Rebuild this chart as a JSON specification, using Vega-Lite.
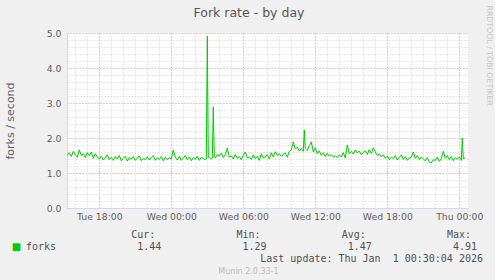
{
  "$schema": "https://vega.github.io/schema/vega-lite/v6.json",
  "background": "#f0f0f0",
  "padding": {"left": 4, "top": 4, "right": 3, "bottom": 6},
  "spacing": 8,
  "config": {"view": {"stroke": null}, "font": "DejaVu Sans"},
  "vconcat": [
    {
      "width": 401,
      "height": 175,
      "view": {"fill": "#ffffff", "stroke": null},
      "data": {"values": [
        {"t": "2025-12-30T15:20:00Z", "v": 1.51}, {"t": "2025-12-30T15:30:00Z", "v": 1.58}, {"t": "2025-12-30T15:40:00Z", "v": 1.47}, {"t": "2025-12-30T15:50:00Z", "v": 1.62},
        {"t": "2025-12-30T16:00:00Z", "v": 1.52}, {"t": "2025-12-30T16:10:00Z", "v": 1.45}, {"t": "2025-12-30T16:20:00Z", "v": 1.66}, {"t": "2025-12-30T16:30:00Z", "v": 1.50}, {"t": "2025-12-30T16:40:00Z", "v": 1.55}, {"t": "2025-12-30T16:50:00Z", "v": 1.44},
        {"t": "2025-12-30T17:00:00Z", "v": 1.58}, {"t": "2025-12-30T17:10:00Z", "v": 1.49}, {"t": "2025-12-30T17:20:00Z", "v": 1.60}, {"t": "2025-12-30T17:30:00Z", "v": 1.42}, {"t": "2025-12-30T17:40:00Z", "v": 1.55}, {"t": "2025-12-30T17:50:00Z", "v": 1.46},
        {"t": "2025-12-30T18:00:00Z", "v": 1.40}, {"t": "2025-12-30T18:10:00Z", "v": 1.48}, {"t": "2025-12-30T18:20:00Z", "v": 1.37}, {"t": "2025-12-30T18:30:00Z", "v": 1.43}, {"t": "2025-12-30T18:40:00Z", "v": 1.52}, {"t": "2025-12-30T18:50:00Z", "v": 1.38},
        {"t": "2025-12-30T19:00:00Z", "v": 1.45}, {"t": "2025-12-30T19:10:00Z", "v": 1.36}, {"t": "2025-12-30T19:20:00Z", "v": 1.47}, {"t": "2025-12-30T19:30:00Z", "v": 1.40}, {"t": "2025-12-30T19:40:00Z", "v": 1.50}, {"t": "2025-12-30T19:50:00Z", "v": 1.35},
        {"t": "2025-12-30T20:00:00Z", "v": 1.42}, {"t": "2025-12-30T20:10:00Z", "v": 1.48}, {"t": "2025-12-30T20:20:00Z", "v": 1.34}, {"t": "2025-12-30T20:30:00Z", "v": 1.44}, {"t": "2025-12-30T20:40:00Z", "v": 1.39}, {"t": "2025-12-30T20:50:00Z", "v": 1.47},
        {"t": "2025-12-30T21:00:00Z", "v": 1.36}, {"t": "2025-12-30T21:10:00Z", "v": 1.43}, {"t": "2025-12-30T21:20:00Z", "v": 1.49}, {"t": "2025-12-30T21:30:00Z", "v": 1.35}, {"t": "2025-12-30T21:40:00Z", "v": 1.42}, {"t": "2025-12-30T21:50:00Z", "v": 1.38},
        {"t": "2025-12-30T22:00:00Z", "v": 1.46}, {"t": "2025-12-30T22:10:00Z", "v": 1.37}, {"t": "2025-12-30T22:20:00Z", "v": 1.44}, {"t": "2025-12-30T22:30:00Z", "v": 1.50}, {"t": "2025-12-30T22:40:00Z", "v": 1.36}, {"t": "2025-12-30T22:50:00Z", "v": 1.43},
        {"t": "2025-12-30T23:00:00Z", "v": 1.39}, {"t": "2025-12-30T23:10:00Z", "v": 1.47}, {"t": "2025-12-30T23:20:00Z", "v": 1.35}, {"t": "2025-12-30T23:30:00Z", "v": 1.45}, {"t": "2025-12-30T23:40:00Z", "v": 1.38}, {"t": "2025-12-30T23:50:00Z", "v": 1.44},
        {"t": "2025-12-31T00:00:00Z", "v": 1.40}, {"t": "2025-12-31T00:10:00Z", "v": 1.66}, {"t": "2025-12-31T00:20:00Z", "v": 1.45}, {"t": "2025-12-31T00:30:00Z", "v": 1.37}, {"t": "2025-12-31T00:40:00Z", "v": 1.48}, {"t": "2025-12-31T00:50:00Z", "v": 1.36},
        {"t": "2025-12-31T01:00:00Z", "v": 1.43}, {"t": "2025-12-31T01:10:00Z", "v": 1.50}, {"t": "2025-12-31T01:20:00Z", "v": 1.38}, {"t": "2025-12-31T01:30:00Z", "v": 1.46}, {"t": "2025-12-31T01:40:00Z", "v": 1.35}, {"t": "2025-12-31T01:50:00Z", "v": 1.44},
        {"t": "2025-12-31T02:00:00Z", "v": 1.39}, {"t": "2025-12-31T02:10:00Z", "v": 1.48}, {"t": "2025-12-31T02:20:00Z", "v": 1.36}, {"t": "2025-12-31T02:30:00Z", "v": 1.45}, {"t": "2025-12-31T02:40:00Z", "v": 1.41}, {"t": "2025-12-31T02:50:00Z", "v": 1.38}, {"t": "2025-12-31T02:55:00Z", "v": 1.40},
        {"t": "2025-12-31T03:00:00Z", "v": 4.91}, {"t": "2025-12-31T03:05:00Z", "v": 1.45}, {"t": "2025-12-31T03:10:00Z", "v": 1.44}, {"t": "2025-12-31T03:20:00Z", "v": 1.40}, {"t": "2025-12-31T03:25:00Z", "v": 1.42}, {"t": "2025-12-31T03:30:00Z", "v": 2.89}, {"t": "2025-12-31T03:35:00Z", "v": 1.46}, {"t": "2025-12-31T03:40:00Z", "v": 1.43}, {"t": "2025-12-31T03:50:00Z", "v": 1.52},
        {"t": "2025-12-31T04:00:00Z", "v": 1.48}, {"t": "2025-12-31T04:10:00Z", "v": 1.57}, {"t": "2025-12-31T04:20:00Z", "v": 1.44}, {"t": "2025-12-31T04:30:00Z", "v": 1.52}, {"t": "2025-12-31T04:40:00Z", "v": 1.71}, {"t": "2025-12-31T04:50:00Z", "v": 1.45},
        {"t": "2025-12-31T05:00:00Z", "v": 1.49}, {"t": "2025-12-31T05:10:00Z", "v": 1.40}, {"t": "2025-12-31T05:20:00Z", "v": 1.53}, {"t": "2025-12-31T05:30:00Z", "v": 1.42}, {"t": "2025-12-31T05:40:00Z", "v": 1.47}, {"t": "2025-12-31T05:50:00Z", "v": 1.38},
        {"t": "2025-12-31T06:00:00Z", "v": 1.50}, {"t": "2025-12-31T06:10:00Z", "v": 1.60}, {"t": "2025-12-31T06:20:00Z", "v": 1.43}, {"t": "2025-12-31T06:30:00Z", "v": 1.46}, {"t": "2025-12-31T06:40:00Z", "v": 1.39}, {"t": "2025-12-31T06:50:00Z", "v": 1.52},
        {"t": "2025-12-31T07:00:00Z", "v": 1.41}, {"t": "2025-12-31T07:10:00Z", "v": 1.48}, {"t": "2025-12-31T07:20:00Z", "v": 1.36}, {"t": "2025-12-31T07:30:00Z", "v": 1.55}, {"t": "2025-12-31T07:40:00Z", "v": 1.43}, {"t": "2025-12-31T07:50:00Z", "v": 1.47},
        {"t": "2025-12-31T08:00:00Z", "v": 1.52}, {"t": "2025-12-31T08:10:00Z", "v": 1.40}, {"t": "2025-12-31T08:20:00Z", "v": 1.58}, {"t": "2025-12-31T08:30:00Z", "v": 1.46}, {"t": "2025-12-31T08:40:00Z", "v": 1.61}, {"t": "2025-12-31T08:50:00Z", "v": 1.50},
        {"t": "2025-12-31T09:00:00Z", "v": 1.55}, {"t": "2025-12-31T09:10:00Z", "v": 1.48}, {"t": "2025-12-31T09:20:00Z", "v": 1.52}, {"t": "2025-12-31T09:30:00Z", "v": 1.57}, {"t": "2025-12-31T09:40:00Z", "v": 1.45}, {"t": "2025-12-31T09:50:00Z", "v": 1.62},
        {"t": "2025-12-31T10:00:00Z", "v": 1.66}, {"t": "2025-12-31T10:10:00Z", "v": 1.89}, {"t": "2025-12-31T10:20:00Z", "v": 1.68}, {"t": "2025-12-31T10:30:00Z", "v": 1.74}, {"t": "2025-12-31T10:40:00Z", "v": 1.63}, {"t": "2025-12-31T10:50:00Z", "v": 1.70},
        {"t": "2025-12-31T11:00:00Z", "v": 1.62}, {"t": "2025-12-31T11:05:00Z", "v": 2.23}, {"t": "2025-12-31T11:10:00Z", "v": 1.70}, {"t": "2025-12-31T11:20:00Z", "v": 1.64}, {"t": "2025-12-31T11:30:00Z", "v": 1.78}, {"t": "2025-12-31T11:40:00Z", "v": 1.89}, {"t": "2025-12-31T11:50:00Z", "v": 1.60},
        {"t": "2025-12-31T12:00:00Z", "v": 1.72}, {"t": "2025-12-31T12:10:00Z", "v": 1.55}, {"t": "2025-12-31T12:20:00Z", "v": 1.63}, {"t": "2025-12-31T12:30:00Z", "v": 1.50}, {"t": "2025-12-31T12:40:00Z", "v": 1.58}, {"t": "2025-12-31T12:50:00Z", "v": 1.47},
        {"t": "2025-12-31T13:00:00Z", "v": 1.56}, {"t": "2025-12-31T13:10:00Z", "v": 1.48}, {"t": "2025-12-31T13:20:00Z", "v": 1.53}, {"t": "2025-12-31T13:30:00Z", "v": 1.45}, {"t": "2025-12-31T13:40:00Z", "v": 1.50}, {"t": "2025-12-31T13:50:00Z", "v": 1.44},
        {"t": "2025-12-31T14:00:00Z", "v": 1.52}, {"t": "2025-12-31T14:10:00Z", "v": 1.46}, {"t": "2025-12-31T14:20:00Z", "v": 1.58}, {"t": "2025-12-31T14:30:00Z", "v": 1.43}, {"t": "2025-12-31T14:40:00Z", "v": 1.80}, {"t": "2025-12-31T14:50:00Z", "v": 1.55},
        {"t": "2025-12-31T15:00:00Z", "v": 1.62}, {"t": "2025-12-31T15:10:00Z", "v": 1.54}, {"t": "2025-12-31T15:20:00Z", "v": 1.66}, {"t": "2025-12-31T15:30:00Z", "v": 1.57}, {"t": "2025-12-31T15:40:00Z", "v": 1.63}, {"t": "2025-12-31T15:50:00Z", "v": 1.52},
        {"t": "2025-12-31T16:00:00Z", "v": 1.58}, {"t": "2025-12-31T16:10:00Z", "v": 1.64}, {"t": "2025-12-31T16:20:00Z", "v": 1.53}, {"t": "2025-12-31T16:30:00Z", "v": 1.67}, {"t": "2025-12-31T16:40:00Z", "v": 1.56}, {"t": "2025-12-31T16:50:00Z", "v": 1.72},
        {"t": "2025-12-31T17:00:00Z", "v": 1.60}, {"t": "2025-12-31T17:10:00Z", "v": 1.50}, {"t": "2025-12-31T17:20:00Z", "v": 1.55}, {"t": "2025-12-31T17:30:00Z", "v": 1.46}, {"t": "2025-12-31T17:40:00Z", "v": 1.52}, {"t": "2025-12-31T17:50:00Z", "v": 1.42},
        {"t": "2025-12-31T18:00:00Z", "v": 1.48}, {"t": "2025-12-31T18:10:00Z", "v": 1.38}, {"t": "2025-12-31T18:20:00Z", "v": 1.45}, {"t": "2025-12-31T18:30:00Z", "v": 1.41}, {"t": "2025-12-31T18:40:00Z", "v": 1.50}, {"t": "2025-12-31T18:50:00Z", "v": 1.37},
        {"t": "2025-12-31T19:00:00Z", "v": 1.44}, {"t": "2025-12-31T19:10:00Z", "v": 1.52}, {"t": "2025-12-31T19:20:00Z", "v": 1.39}, {"t": "2025-12-31T19:30:00Z", "v": 1.47}, {"t": "2025-12-31T19:40:00Z", "v": 1.36}, {"t": "2025-12-31T19:50:00Z", "v": 1.43},
        {"t": "2025-12-31T20:00:00Z", "v": 1.45}, {"t": "2025-12-31T20:10:00Z", "v": 1.60}, {"t": "2025-12-31T20:20:00Z", "v": 1.42}, {"t": "2025-12-31T20:30:00Z", "v": 1.50}, {"t": "2025-12-31T20:40:00Z", "v": 1.38}, {"t": "2025-12-31T20:50:00Z", "v": 1.46},
        {"t": "2025-12-31T21:00:00Z", "v": 1.40}, {"t": "2025-12-31T21:10:00Z", "v": 1.35}, {"t": "2025-12-31T21:20:00Z", "v": 1.44}, {"t": "2025-12-31T21:30:00Z", "v": 1.31}, {"t": "2025-12-31T21:40:00Z", "v": 1.29}, {"t": "2025-12-31T21:50:00Z", "v": 1.38},
        {"t": "2025-12-31T22:00:00Z", "v": 1.36}, {"t": "2025-12-31T22:10:00Z", "v": 1.45}, {"t": "2025-12-31T22:20:00Z", "v": 1.33}, {"t": "2025-12-31T22:30:00Z", "v": 1.41}, {"t": "2025-12-31T22:40:00Z", "v": 1.62}, {"t": "2025-12-31T22:50:00Z", "v": 1.42},
        {"t": "2025-12-31T23:00:00Z", "v": 1.50}, {"t": "2025-12-31T23:10:00Z", "v": 1.38}, {"t": "2025-12-31T23:20:00Z", "v": 1.47}, {"t": "2025-12-31T23:30:00Z", "v": 1.35}, {"t": "2025-12-31T23:40:00Z", "v": 1.44}, {"t": "2025-12-31T23:50:00Z", "v": 1.39},
        {"t": "2026-01-01T00:00:00Z", "v": 1.46}, {"t": "2026-01-01T00:10:00Z", "v": 1.36}, {"t": "2026-01-01T00:15:00Z", "v": 2.00}, {"t": "2026-01-01T00:20:00Z", "v": 1.40}, {"t": "2026-01-01T00:30:00Z", "v": 1.44}
      ]},
      "layer": [
        {
          "mark": {"type": "line", "opacity": 0},
          "encoding": {
            "x": {
              "field": "t", "type": "temporal",
              "axis": {
                "orient": "top", "title": "Fork rate - by day", "labels": false, "ticks": false, "domain": false,
                "values": [1767110400000, 1767114000000, 1767121200000, 1767124800000, 1767128400000, 1767132000000, 1767135600000, 1767142800000, 1767146400000, 1767150000000, 1767153600000, 1767157200000, 1767164400000, 1767168000000, 1767171600000, 1767175200000, 1767178800000, 1767186000000, 1767189600000, 1767193200000, 1767196800000, 1767200400000, 1767207600000, 1767211200000, 1767214800000, 1767218400000, 1767222000000],
                "grid": true, "gridColor": "#d0d0d0", "gridDash": [1, 2], "gridOpacity": 1, "gridWidth": 1,
                "titleFont": "DejaVu Sans", "titleFontSize": 12.5, "titleFontWeight": "normal", "titleColor": "#555555",
                "titleX": 181.5, "titleY": -16.5, "titleAlign": "center", "titleBaseline": "alphabetic", "titleAngle": 0
              }
            },
            "y": {
              "field": "v", "type": "quantitative",
              "axis": {
                "orient": "right", "title": "RRDTOOL / TOBI OETIKER", "labels": false, "ticks": false, "domain": false,
                "values": [0.2, 0.4, 0.6, 0.8, 1.2, 1.4, 1.6, 1.8, 2.2, 2.4, 2.6, 2.8, 3.2, 3.4, 3.6, 3.8, 4.2, 4.4, 4.6, 4.8],
                "grid": true, "gridColor": "#d0d0d0", "gridDash": [1, 2], "gridOpacity": 1, "gridWidth": 1,
                "titleFont": "DejaVu Sans", "titleFontSize": 7.8, "titleFontWeight": "normal", "titleColor": "#c4c4c4",
                "titleAngle": 90, "titleX": 20, "titleY": -28, "titleAlign": "left", "titleBaseline": "middle"
              }
            }
          }
        },
        {
          "mark": {"type": "line", "color": "#00cc00", "strokeWidth": 1},
          "encoding": {
            "x": {
              "field": "t", "type": "temporal",
              "scale": {"type": "utc", "nice": false, "domain": [1767107910000, 1767228210000]},
              "axis": {
                "orient": "bottom", "title": null,
                "values": [1767117600000, 1767139200000, 1767160800000, 1767182400000, 1767204000000, 1767225600000],
                "labelExpr": "utcFormat(datum.value, '%a %H:%M')",
                "labelOverlap": false, "labelFlush": false,
                "labelFont": "DejaVu Sans", "labelFontSize": 9.3, "labelColor": "#606060", "labelPadding": 4,
                "ticks": false, "domainColor": "#cfd6f8", "domainWidth": 1,
                "grid": true, "gridColor": "#e08c8c", "gridDash": [1, 2], "gridOpacity": 1, "gridWidth": 1
              }
            },
            "y": {
              "field": "v", "type": "quantitative",
              "scale": {"domain": [0, 5], "nice": false},
              "axis": {
                "orient": "left",
                "title": "forks / second", "titleFont": "DejaVu Sans", "titleFontSize": 11, "titleFontWeight": "normal", "titleColor": "#606060", "titlePadding": 31,
                "values": [0, 1, 2, 3, 4, 5], "format": ".1f",
                "labelOverlap": false,
                "labelFont": "DejaVu Sans", "labelFontSize": 9.3, "labelColor": "#606060", "labelPadding": 6,
                "ticks": false, "domainColor": "#cfd6f8", "domainWidth": 1,
                "grid": true, "gridColor": "#e08c8c", "gridDash": [1, 2], "gridOpacity": 1, "gridWidth": 1
              }
            }
          }
        }
      ],
      "resolve": {"axis": {"x": "independent", "y": "independent"}}
    },
    {
      "width": 421,
      "height": 24,
      "view": {"fill": "#f0f0f0", "stroke": null},
      "title": {"text": "Munin 2.0.33-1", "orient": "bottom", "anchor": "middle", "frame": "group", "font": "DejaVu Sans", "fontSize": 8, "fontWeight": "normal", "color": "#bbbbbb", "offset": 4, "dx": -29},
      "encoding": {
        "x": {"field": "col", "type": "nominal", "scale": {"type": "point", "domain": ["forks", "Cur:", "Min:", "Avg:", "Max:"], "padding": 0}, "axis": null},
        "y": {"field": "row", "type": "nominal", "scale": {"type": "point", "domain": ["head", "val", "upd"], "padding": 0}, "axis": null}
      },
      "layer": [
        {
          "data": {"values": [
            {"col": "Cur:", "row": "head", "text": "Cur:"},
            {"col": "Min:", "row": "head", "text": "Min:"},
            {"col": "Avg:", "row": "head", "text": "Avg:"},
            {"col": "Max:", "row": "head", "text": "Max:"}
          ]},
          "mark": {"type": "text", "align": "right", "baseline": "middle", "font": "DejaVu Sans Mono", "fontSize": 10, "color": "#505050", "dx": -17},
          "encoding": {"text": {"field": "text"}}
        },
        {
          "data": {"values": [
            {"col": "forks", "row": "val", "text": "forks"},
            {"col": "Cur:", "row": "val", "text": "1.44"},
            {"col": "Min:", "row": "val", "text": "1.29"},
            {"col": "Avg:", "row": "val", "text": "1.47"},
            {"col": "Max:", "row": "val", "text": "4.91"}
          ]},
          "mark": {"type": "text", "align": "right", "baseline": "middle", "font": "DejaVu Sans Mono", "fontSize": 10, "color": "#505050", "dx": -11},
          "encoding": {"text": {"field": "text"}}
        },
        {
          "data": {"values": [
            {"col": "Max:", "row": "upd", "text": "Last update: Thu Jan\u00a0 1 00:30:04 2026"}
          ]},
          "mark": {"type": "text", "align": "right", "baseline": "middle", "font": "DejaVu Sans Mono", "fontSize": 10, "color": "#505050", "dx": -5},
          "encoding": {"text": {"field": "text"}}
        },
        {
          "data": {"values": [{"col": "forks", "row": "val", "text": "■"}]},
          "mark": {"type": "text", "align": "center", "baseline": "middle", "font": "DejaVu Sans", "fontSize": 10, "color": "#00cc00", "dx": -50.5},
          "encoding": {"text": {"field": "text"}}
        }
      ]
    }
  ]
}
